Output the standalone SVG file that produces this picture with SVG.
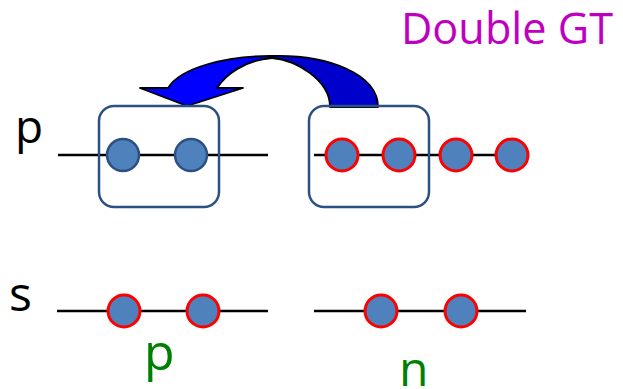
<svg xmlns="http://www.w3.org/2000/svg" width="623" height="389" viewBox="0 0 623 389">
  <style>
    .wire { stroke: #000; stroke-width: 2.5; fill: none; }
    .frame { fill: none; stroke: #2B5082; stroke-width: 2.5; }
    .bead { fill: #4F81BD; stroke: #2B5082; stroke-width: 2.5; }
    .bead-hot { fill: #4F81BD; stroke: #FF0000; stroke-width: 3; }
    .lbl { font-family: "Open Sans", "Liberation Sans", sans-serif; }
    .arrow { stroke: #000; stroke-width: 1.8; stroke-linejoin: round; }
  </style>

  <!-- title -->
  <text class="lbl" x="401" y="44" font-size="44" fill="#C000C0" textLength="212" lengthAdjust="spacingAndGlyphs">Double GT</text>

  <!-- row labels -->
  <text class="lbl" x="15" y="143" font-size="46" fill="#000">p</text>
  <text class="lbl" x="9" y="311" font-size="48" fill="#000">s</text>
  <text class="lbl" x="144" y="370" font-size="50" fill="#008000">p</text>
  <text class="lbl" x="399" y="386" font-size="48" fill="#008000">n</text>

  <!-- connectors: the chain lines -->
  <g id="connectors">
    <line class="wire" x1="58" y1="155" x2="268" y2="155"/>
    <line class="wire" x1="314" y1="155" x2="512" y2="155"/>
    <line class="wire" x1="57" y1="311" x2="268" y2="311"/>
    <line class="wire" x1="314" y1="311" x2="526" y2="311"/>
  </g>

  <!-- curved transfer arrow -->
  <g id="transfer-arrow">
    <path class="arrow" fill="#0000CC" d="M270,56 C330,54 378,75 378,107 L330,107 C330,80 296,60 272,58 Z"/>
    <path class="arrow" fill="#0000FF" d="M168,88 L140,88 L187,106 L243,88 L217,88 C225,75 245,60 272,58 L270,56 C225,56 180,68 168,88 Z"/>
  </g>

  <!-- top row -->
  <g id="box-left">
    <rect class="frame" x="99" y="106" width="120" height="101" rx="15"/>
  </g>
  <g id="box-right">
    <rect class="frame" x="309" y="106" width="120" height="101" rx="15"/>
  </g>
  <g id="p-top-1"><circle class="bead" cx="123" cy="155" r="16"/></g>
  <g id="p-top-2"><circle class="bead" cx="191" cy="155" r="16"/></g>
  <g id="p-top-3"><circle class="bead-hot" cx="342" cy="155" r="16"/></g>
  <g id="p-top-4"><circle class="bead-hot" cx="399" cy="155" r="16"/></g>
  <g id="p-top-5"><circle class="bead-hot" cx="456" cy="155" r="16"/></g>
  <g id="p-top-6"><circle class="bead-hot" cx="512" cy="155" r="16"/></g>

  <!-- bottom row -->
  <g id="s-bot-1"><circle class="bead-hot" cx="124" cy="311" r="16"/></g>
  <g id="s-bot-2"><circle class="bead-hot" cx="203" cy="311" r="16"/></g>
  <g id="s-bot-3"><circle class="bead-hot" cx="381" cy="311" r="16"/></g>
  <g id="s-bot-4"><circle class="bead-hot" cx="461" cy="311" r="16"/></g>
</svg>
